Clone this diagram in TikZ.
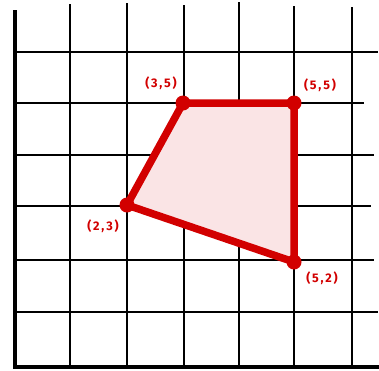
\documentclass[tikz,border=0pt]{standalone}
\usepackage{fontspec}
\newfontfamily\handfont[LetterSpace=14]{Fira Sans Bold}
\definecolor{redline}{RGB}{210,0,0}
\definecolor{pinkfill}{RGB}{250,228,229}
\begin{document}
\begin{tikzpicture}[x=1pt,y=-1pt,
  gridline/.style={line width=2pt,black},
  axisline/.style={line width=4pt,black},
  edge/.style={line width=7.5pt,redline,line cap=round,line join=round},
  dot/.style={circle,fill=redline,inner sep=0pt,minimum size=15pt},
  lab/.style={text=redline,font=\handfont\fontsize{12.5}{14}\selectfont,inner sep=0pt}]
\useasboundingbox (0,0) rectangle (379,370);
\fill[white] (0,0) rectangle (379,370);
% vertical grid lines
\draw[gridline] (70,4) -- (70,367);
\draw[gridline] (127,3) -- (127,367);
\draw[gridline] (184,5) -- (184,367);
\draw[gridline] (239,2) -- (239,367);
\draw[gridline] (294,6) -- (294,367);
\draw[gridline] (352,7) -- (352,367);
% horizontal grid lines
\draw[gridline] (15,52) -- (378,52);
\draw[gridline] (15,103) -- (364,103);
\draw[gridline] (15,155) -- (374,155);
\draw[gridline] (15,206) -- (371,206);
\draw[gridline] (15,260) -- (374,260);
\draw[gridline] (15,312) -- (378,312);
% axes
\draw[axisline] (15,10) -- (15,369);
\draw[axisline] (13,367) -- (379,367);
% polygon vertices
\coordinate (A) at (183,103);
\coordinate (B) at (294,103);
\coordinate (C) at (294,262);
\coordinate (D) at (127,205);
\fill[pinkfill] (A) -- (B) -- (C) -- (D) -- cycle;
\draw[edge] (A) -- (B) -- (C) -- (D) -- cycle;
\node[dot] (a) at (A) {};
\node[dot] (b) at (B) {};
\node[dot] (c) at (C) {};
\node[dot] (d) at (D) {};
\node[lab] (la) at (161,83) {(3,5)};
\node[lab] (lb) at (320,85) {(5,5)};
\node[lab] (ld) at (103,226) {(2,3)};
\node[lab] (lc) at (322,278) {(5,2)};
\end{tikzpicture}
\end{document}
